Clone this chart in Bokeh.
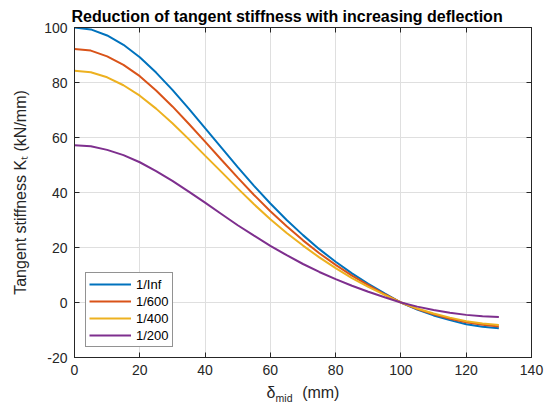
from bokeh.plotting import figure
from bokeh.models import LinearAxis, Legend, LegendItem, Range1d, FixedTicker
from bokeh.embed import file_html
from bokeh.resources import INLINE

# ---------------- data ----------------
deflection = [0, 5, 10, 15, 20, 25, 30, 35, 40, 45, 50, 55, 60, 65,
              70, 75, 80, 85, 90, 95, 100, 105, 110, 115, 120, 125, 130]
k_inf = [100.0, 99.3, 97.1, 93.7, 89.2, 83.6, 77.3, 70.5, 63.4, 56.3, 49.2, 42.4, 36.0, 30.0,
         24.5, 19.4, 14.8, 10.6, 6.8, 3.3, 0.0, -2.6, -4.7, -6.4, -7.9, -8.8, -9.4]
k_600 = [92.2, 91.6, 89.5, 86.4, 82.3, 77.1, 71.3, 65.0, 58.5, 51.9, 45.4, 39.1, 33.2, 27.7,
         22.6, 17.9, 13.7, 9.8, 6.3, 3.0, 0.0, -2.4, -4.3, -5.9, -7.2, -8.1, -8.7]
k_400 = [84.3, 83.7, 81.9, 79.0, 75.2, 70.5, 65.2, 59.4, 53.4, 47.5, 41.5, 35.7, 30.3, 25.3,
         20.7, 16.4, 12.5, 8.9, 5.7, 2.8, 0.0, -2.2, -4.0, -5.5, -6.8, -7.6, -8.2]
k_200 = [57.2, 56.8, 55.5, 53.6, 51.0, 47.8, 44.2, 40.3, 36.3, 32.2, 28.1, 24.3, 20.6, 17.2,
         14.0, 11.1, 8.5, 6.1, 3.9, 1.9, 0.0, -1.5, -2.7, -3.7, -4.5, -5.0, -5.3]
series_labels = ["1/Inf", "1/600", "1/400", "1/200"]
x_ticks = [0, 20, 40, 60, 80, 100, 120, 140]
y_ticks = [-20, 0, 20, 40, 60, 80, 100]
title_text = "Reduction of tangent stiffness with increasing deflection"
x_label_main = "δ"
x_label_sub = "mid"
x_label_unit = "(mm)"
y_label = "Tangent stiffness K\u209c (kN/mm)"

# ---------------- styling ----------------
COLORS = ["#0072BD", "#D95319", "#EDB120", "#7E2F8E"]
FONT = "Liberation Sans"
AX_COLOR = "#262626"
NBSP = "\u00a0"
FL, FT, FW, FH = 74, 27, 457, 330
W, H = 548, 405
X0, X1, Y0, Y1 = 0, 140, -20, 100

p = figure(frame_width=FW, frame_height=FH,
           min_border_left=FL, min_border_right=W - FL - FW,
           min_border_top=FT, min_border_bottom=H - FT - FH,
           x_range=Range1d(X0, X1), y_range=Range1d(Y0, Y1),
           output_backend="svg", toolbar_location=None,
           background_fill_color="white", border_fill_color="white")
p.outline_line_color = AX_COLOR
p.outline_line_width = 1

p.title.text = title_text
p.title.text_font = FONT
p.title.text_font_size = "16px"
p.title.text_font_style = "bold"
p.title.text_color = "#000000"
p.title.align = "left"
p.title.offset = -3
p.title.standoff = 6


def style_axis(ax, ticks, show_labels, standoff):
    ax.ticker = FixedTicker(ticks=ticks)
    ax.major_tick_in = 5
    ax.major_tick_out = 0
    ax.minor_tick_line_color = None
    ax.axis_line_color = AX_COLOR
    ax.axis_line_width = 1
    ax.major_tick_line_color = AX_COLOR
    ax.major_label_text_font = FONT
    ax.major_label_text_color = AX_COLOR
    ax.major_label_text_font_size = "14px"
    ax.major_label_standoff = standoff
    ax.axis_label_text_font = FONT
    ax.axis_label_text_font_style = "normal"
    ax.axis_label_text_color = AX_COLOR
    ax.axis_label_text_font_size = "16px"
    if show_labels:
        ax.major_label_overrides = {t: str(t) for t in ticks}
    else:
        ax.major_label_overrides = {t: "" for t in ticks}


xa = p.xaxis[0]
ya = p.yaxis[0]
style_axis(xa, x_ticks, True, 7)
style_axis(ya, y_ticks, True, 7)
top_ax = LinearAxis()
right_ax = LinearAxis()
style_axis(top_ax, x_ticks, False, 0)
style_axis(right_ax, y_ticks, False, 0)
p.add_layout(top_ax, "above")
p.add_layout(right_ax, "right")

# axis titles
ya.axis_label = y_label
ya.axis_label_standoff = 12
xa.axis_label = x_label_main + NBSP * 6 + x_label_unit
xa.axis_label_standoff = 6

# subscript "mid" of the x label, as a label-only axis pulled up under the delta
sub_ax = LinearAxis(ticker=FixedTicker(ticks=[]))
sub_ax.axis_line_color = None
sub_ax.major_tick_line_color = None
sub_ax.minor_tick_line_color = None
sub_ax.major_tick_in = 0
sub_ax.major_tick_out = 0
sub_ax.major_label_standoff = 0
sub_ax.axis_label = x_label_sub + NBSP * 13
sub_ax.axis_label_text_font = FONT
sub_ax.axis_label_text_font_style = "normal"
sub_ax.axis_label_text_color = AX_COLOR
sub_ax.axis_label_text_font_size = "10.5px"
sub_ax.axis_label_standoff = -12
p.add_layout(sub_ax, "below")

p.xgrid.ticker = FixedTicker(ticks=x_ticks)
p.ygrid.ticker = FixedTicker(ticks=y_ticks)
for g in (p.xgrid, p.ygrid):
    g.grid_line_color = "#DFDFDF"
    g.grid_line_width = 1

renderers = []
for ys, c in zip([k_inf, k_600, k_400, k_200], COLORS):
    r = p.line(deflection, ys, line_width=2, line_color=c)
    renderers.append(r)

legend = Legend(items=[LegendItem(label=l, renderers=[r]) for l, r in zip(series_labels, renderers)],
                location=(11, 10), orientation="vertical",
                label_text_font=FONT, label_text_font_size="13px", label_text_color="#000000",
                glyph_width=42, glyph_height=16, label_height=16, label_standoff=5,
                spacing=1, padding=3, margin=0,
                border_line_color=AX_COLOR, border_line_width=1,
                background_fill_color="white", background_fill_alpha=1.0)
p.add_layout(legend, "center")

open("out.html", "w").write(file_html(p, INLINE))
